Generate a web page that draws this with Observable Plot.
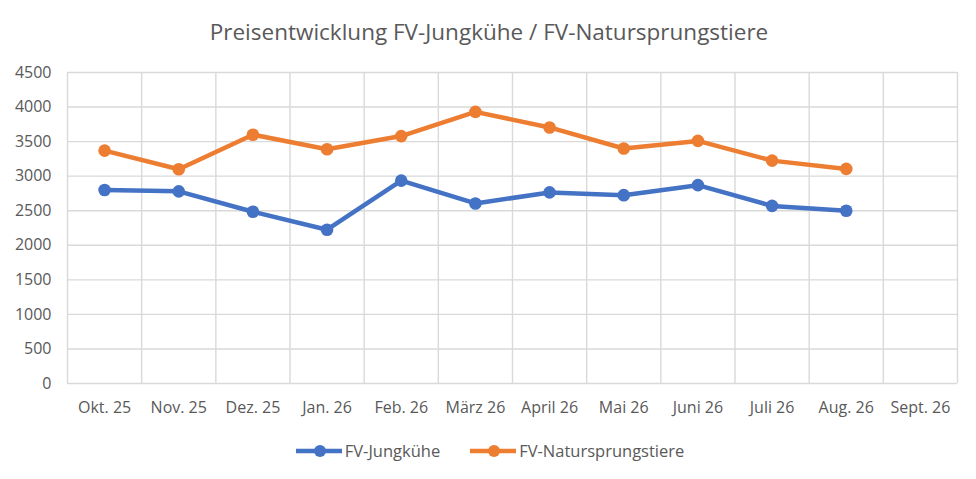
<!DOCTYPE html>
<html>
<head>
<meta charset="utf-8">
<script src="https://cdn.jsdelivr.net/npm/d3@7"></script>
<script src="https://cdn.jsdelivr.net/npm/@observablehq/plot@0.6"></script>
<style>
  body { margin: 0; background: #fff; font-family: "Open Sans", sans-serif; color: #595959; }
  #wrap { width: 976px; height: 479px; position: relative; overflow: hidden; }
  #title { height: 60px; line-height: 64px; text-align: center; font-size: 22.5px; color: #595959; padding-left: 2px; }
  #legend { position: absolute; top: 439px; left: 0; width: 976px; display: flex; justify-content: center; gap: 30px; font-size: 16.5px; color: #595959; padding-left: 4px; box-sizing: border-box; }
  .item { display: flex; align-items: center; gap: 3px; }
  svg { display: block; }
</style>
</head>
<body>
<div id="wrap">
  <div id="title">Preisentwicklung FV-Jungkühe / FV-Natursprungstiere</div>
  <div id="chart"></div>
  <div id="legend"></div>
</div>
<script>
const months = ["Okt. 25", "Nov. 25", "Dez. 25", "Jan. 26", "Feb. 26", "März 26", "April 26", "Mai 26", "Juni 26", "Juli 26", "Aug. 26", "Sept. 26"];
const seriesNames = ["FV-Jungkühe", "FV-Natursprungstiere"];
const seriesColors = ["#4472C4", "#ED7D31"];
const jungkuehe = [2800, 2780, 2485, 2225, 2935, 2605, 2765, 2725, 2870, 2570, 2500];
const natursprung = [3370, 3100, 3600, 3390, 3580, 3930, 3705, 3400, 3510, 3225, 3105];
const yTicks = [0, 500, 1000, 1500, 2000, 2500, 3000, 3500, 4000, 4500];

const data = [];
jungkuehe.forEach((v, i) => data.push({i, value: v, series: seriesNames[0]}));
natursprung.forEach((v, i) => data.push({i, value: v, series: seriesNames[1]}));
const boundaries = d3.range(months.length + 1).map(i => i - 0.5);

const chart = Plot.plot({
  width: 976,
  height: 370,
  marginLeft: 67,
  marginRight: 19,
  marginTop: 12,
  marginBottom: 47,
  style: {fontFamily: "Open Sans, sans-serif", color: "#595959", background: "#fff"},
  x: {domain: [-0.5, months.length - 0.5], label: null},
  y: {domain: [0, 4500], label: null},
  color: {domain: seriesNames, range: seriesColors},
  marks: [
    Plot.ruleY(yTicks, {stroke: "#d9d9d9", strokeWidth: 1.4}),
    Plot.ruleX(boundaries, {stroke: "#d9d9d9", strokeWidth: 1.4}),
    Plot.axisY(yTicks, {tickSize: 0, tickPadding: 16, fontSize: 16, fill: "#595959", tickFormat: d => String(d), label: null}),
    Plot.axisX(d3.range(months.length), {tickSize: 0, tickPadding: 18, fontSize: 16, fill: "#595959", tickFormat: i => months[i], label: null}),
    Plot.lineY(data, {x: "i", y: "value", stroke: "series", z: "series", strokeWidth: 4.5}),
    Plot.dot(data, {x: "i", y: "value", fill: "series", r: 6.3})
  ]
});
document.getElementById("chart").appendChild(chart);

const legend = document.getElementById("legend");
seriesNames.forEach((name, k) => {
  const item = document.createElement("div");
  item.className = "item";
  item.innerHTML = `<svg width="46" height="16"><line x1="0" y1="8" x2="46" y2="8" stroke="${seriesColors[k]}" stroke-width="4.5"/><circle cx="24" cy="8" r="6" fill="${seriesColors[k]}"/></svg><span>${name}</span>`;
  legend.appendChild(item);
});
</script>
</body>
</html>
